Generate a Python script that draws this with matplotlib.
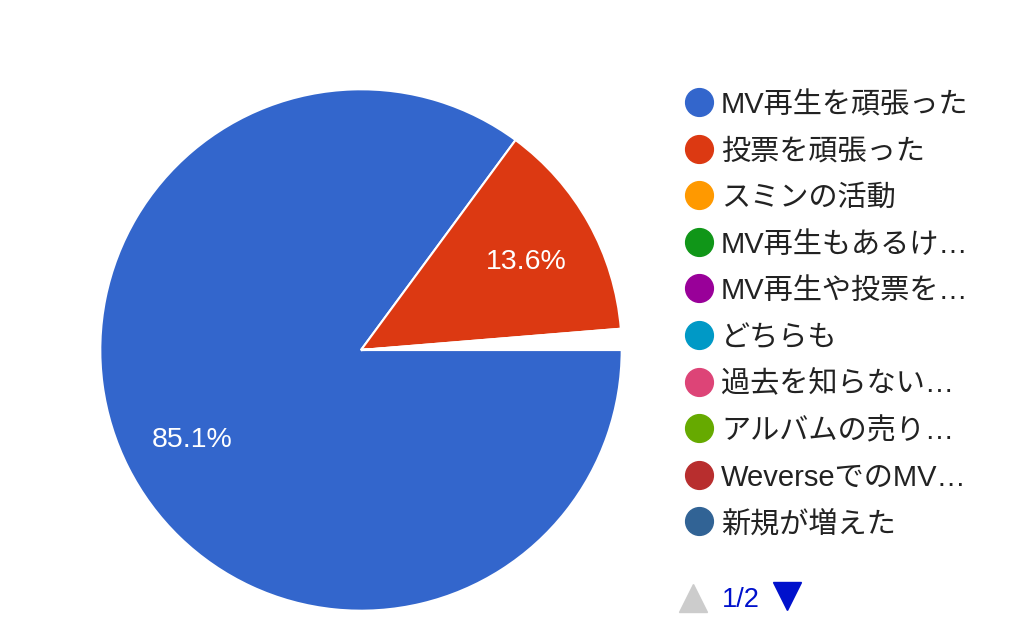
import matplotlib
matplotlib.use("Agg")
import matplotlib.pyplot as plt

categories = ["MV再生を頑張った", "投票を頑張った", "スミンの活動", "MV再生もあるけ…",
              "MV再生や投票を…", "どちらも", "過去を知らない…", "アルバムの売り…",
              "WeverseでのMV…", "新規が増えた"]
values = [85.1, 13.6, 0.2, 0.2, 0.2, 0.2, 0.2, 0.1, 0.1, 0.1]
legend_colors = ["#3366cc", "#dc3912", "#ff9900", "#109618", "#990099",
                 "#0099c6", "#dd4477", "#66aa00", "#b82e2e", "#316395"]
page_text = "1/2"

W, H = 1024, 639
fig = plt.figure(figsize=(W / 100, H / 100), dpi=100)
fig.patch.set_facecolor("white")

# pie axes: center (361,350) px, radius 262 px
cx, cy, r = 361, 350, 262
ax = fig.add_axes([(cx - r) / W, 1 - (cy + r) / H, 2 * r / W, 2 * r / H])
slice_colors = [c if v >= 1 else "white" for v, c in zip(values, legend_colors)]
wedges, texts, autotexts = ax.pie(
    values, colors=slice_colors, startangle=0, counterclock=False,
    radius=1, pctdistance=0.727,
    autopct=lambda p: f"{p:.1f}%" if p > 5 else "",
    wedgeprops=dict(edgecolor="white", linewidth=1.5),
    textprops=dict(color="white", fontsize=20.5, family=["Liberation Sans", "DejaVu Sans"]))
for t in autotexts:
    x, y = t.get_position()
    t.set_position((x, y - 0.016))
ax.set_xlim(-1.005, 1.005)
ax.set_ylim(-1.005, 1.005)
ax.axis("off")

# overlay axes in pixel coordinates for the legend
lax = fig.add_axes([0, 0, 1, 1])
lax.set_xlim(0, W)
lax.set_ylim(H, 0)
lax.axis("off")

y0, dy = 102, 46.6
for i, (lab, col) in enumerate(zip(categories, legend_colors)):
    y = y0 + i * dy
    lax.plot(699, y, "o", ms=20, color=col, mec=col)
    lax.text(721, y + 3, lab, fontsize=21, color="#222222", va="center", ha="left",
             family=["Liberation Sans", "Noto Sans CJK JP", "DejaVu Sans"])

lax.plot(693, 598, "^", ms=20, color="#cccccc", mec="#cccccc")
lax.text(722, 600, page_text, fontsize=19.5, color="#0011cc", va="center", ha="left",
         family=["Liberation Sans", "DejaVu Sans"])
lax.plot(787, 596, "v", ms=20, color="#0011cc", mec="#0011cc")

fig.savefig("out.png", dpi=100, facecolor="white")
